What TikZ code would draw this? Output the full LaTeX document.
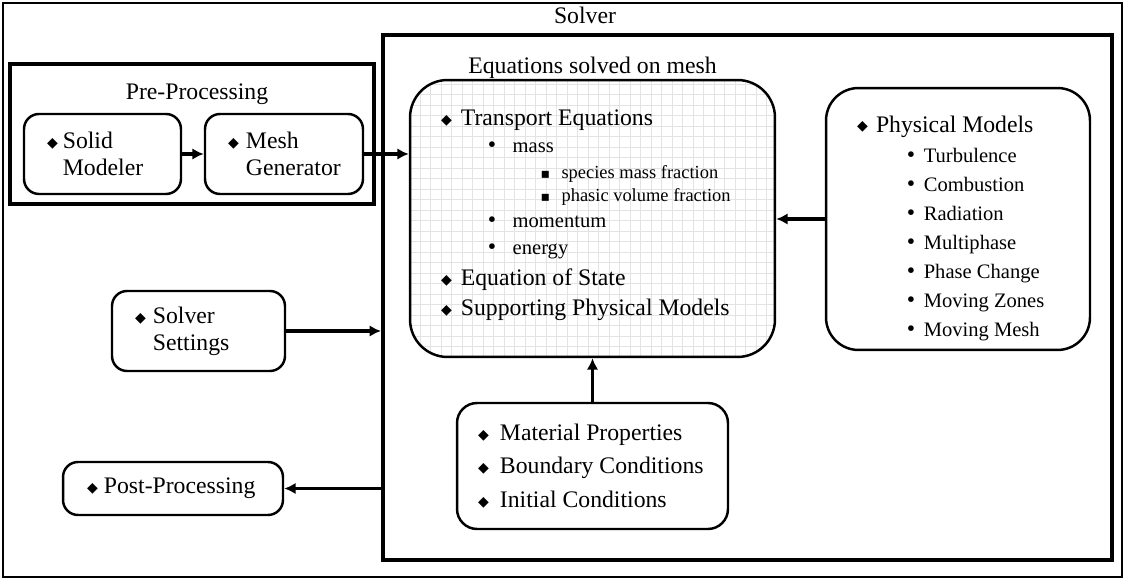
\documentclass[tikz,border=0pt]{standalone}
\usepackage{fontspec}
\setmainfont{Liberation Serif}
\newfontfamily\symfont{DejaVu Sans}
\usetikzlibrary{arrows.meta,positioning,backgrounds}
\hyphenpenalty=10000
\exhyphenpenalty=10000

% bullets
\newcommand{\dia}{\raisebox{0.6pt}{\symfont\fontsize{8}{8}\selectfont ◆}}
\newcommand{\dotb}{•}
\newcommand{\sqb}{{\symfont\fontsize{8}{8}\selectfont ▪}}
% list lines
\newcommand{\lvla}[2][10pt]{\makebox[#1][l]{\dia}#2}
\newcommand{\lvlb}[3]{\hspace*{#1}\makebox[#2][l]{\dotb}{\fontsize{11.7}{14}\selectfont #3}}
\newcommand{\lvlc}[3]{\hspace*{#1}\makebox[#2][l]{\sqb}{\fontsize{10.5}{12}\selectfont #3}}

\begin{document}
\begin{tikzpicture}[x=0.02cm, y=-0.02cm,
  txt/.style={font={\fontsize{13.5}{15}\selectfont}},
  thickframe/.style={draw, line width=2.3pt, inner sep=0pt},
  box/.style={draw, line width=1.4pt, rounded corners=0.3cm, align=flush left,
    inner ysep=0pt, font={\fontsize{13.5}{15.3}\selectfont}},
  arr/.style={line width=1.8pt, -{Latex[length=6.5pt,width=6.5pt]}}]
  \useasboundingbox (0,0) rectangle (1125,580);
  % outer frame
  \draw[line width=1.1pt] (3,3) rectangle (1122,577);
  % pre-processing
  \node[thickframe, minimum width=7.28cm, minimum height=2.8cm] (preproc) at (192,134) {};
  \node[txt] (pretitle) at (197,94) {Pre-Processing};
  \node[box, minimum width=3.14cm, minimum height=1.6cm, inner xsep=0.46cm, text width=2.22cm]
    (solid) at (102.5,154) {\lvla[9pt]{Solid}\\\hspace*{9pt}Modeler};
  \node[box, minimum width=3.16cm, minimum height=1.6cm, inner xsep=0.46cm, text width=2.24cm]
    (mesh) at (284,154) {\lvla[10.2pt]{Mesh}\\\hspace*{10.2pt}Generator};
  % solver
  \node[thickframe, minimum width=14.58cm, minimum height=10.5cm] (solver) at (747.5,297.5) {};
  \node[txt] (solvertitle) at (585,15) {Solver};
  \node[box, rounded corners=0.75cm, minimum width=7.3cm, minimum height=5.54cm,
    inner xsep=0.62cm, text width=6.06cm, font={\fontsize{13.5}{14.5}\selectfont}]
    (eqs) at (592.5,218.5) {%
    \lvla[11.3pt]{Transport Equations}\\[1pt]
    \lvlb{26.6pt}{14.2pt}{mass}\\
    \lvlc{56.7pt}{11.9pt}{species mass fraction}\\[-1pt]
    \lvlc{56.7pt}{11.9pt}{phasic volume fraction}\\
    \lvlb{26.6pt}{14.2pt}{momentum}\\[1pt]
    \lvlb{26.6pt}{14.2pt}{energy}\\[3pt]
    \lvla[11.3pt]{Equation of State}\\[2.5pt]
    \lvla[11.3pt]{Supporting Physical Models}\rule[-7pt]{0pt}{7pt}};
  \node[txt, above=-3.5pt of eqs] (eqtitle) {Equations solved on mesh};
  \begin{scope}[on background layer]
    \clip[rounded corners=0.75cm] (eqs.south west) rectangle (eqs.north east);
    \draw[gray!22, line width=0.4pt, step=0.21cm] (eqs.south west) grid (eqs.north east);
  \end{scope}
  \node[box, rounded corners=0.65cm, minimum width=5.28cm, minimum height=5.24cm,
    inner xsep=0.62cm, text width=4.04cm, font={\fontsize{13.5}{16.5}\selectfont}]
    (phys) at (958,219) {%
    \lvla[10.8pt]{Physical Models}\rule{0pt}{20pt}\\[1pt]
    \lvlb{28.3pt}{9.7pt}{Turbulence}\\
    \lvlb{28.3pt}{9.7pt}{Combustion}\\
    \lvlb{28.3pt}{9.7pt}{Radiation}\\
    \lvlb{28.3pt}{9.7pt}{Multiphase}\\
    \lvlb{28.3pt}{9.7pt}{Phase Change}\\
    \lvlb{28.3pt}{9.7pt}{Moving Zones}\\
    \lvlb{28.3pt}{9.7pt}{Moving Mesh}};
  \node[box, rounded corners=0.4cm, minimum width=5.42cm, minimum height=2.52cm,
    inner xsep=0.42cm, text width=4.58cm, font={\fontsize{13.5}{19}\selectfont}]
    (props) at (592.5,466) {%
    \lvla[12.5pt]{Material Properties}\\
    \lvla[12.5pt]{Boundary Conditions}\\
    \lvla[12.5pt]{Initial Conditions}};
  % settings and post-processing
  \node[box, minimum width=3.46cm, minimum height=1.6cm, inner xsep=0.46cm, text width=2.54cm]
    (settings) at (198.5,331) {\lvla[10.2pt]{Solver}\\\hspace*{10.2pt}Settings};
  \node[box, minimum width=4.4cm, minimum height=1.06cm, inner xsep=0.48cm, text width=3.44cm]
    (post) at (173,488.5) {\lvla[9.6pt]{Post-Processing}};
  % arrows
  \draw[arr] (solid) -- (mesh);
  \draw[arr] (mesh) -- (mesh -| eqs.west);
  \draw[arr] (phys.west) -- (phys.west -| eqs.east);
  \draw[arr] (settings) -- (settings -| solver.west);
  \draw[arr] (solver.west |- post) -- (post);
  \draw[arr] (props) -- (eqs);
\end{tikzpicture}
\end{document}
